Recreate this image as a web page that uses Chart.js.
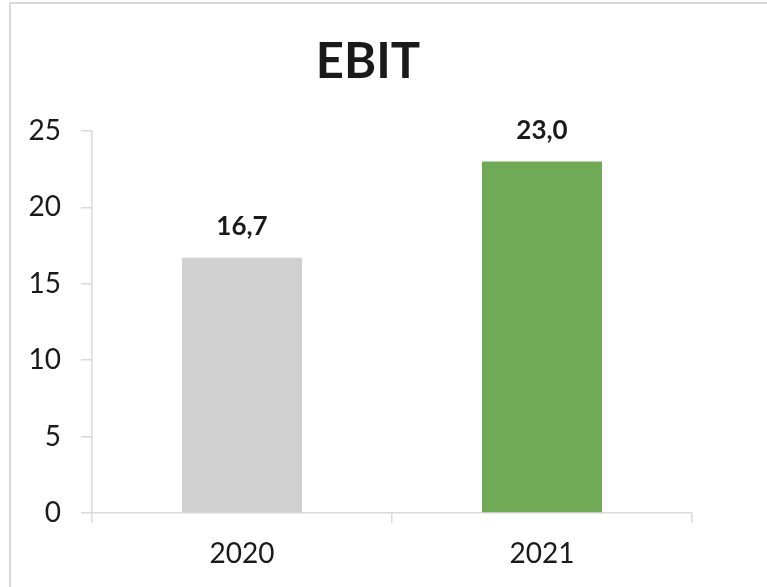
<!DOCTYPE html>
<html>
<head>
<meta charset="utf-8">
<script src="https://cdn.jsdelivr.net/npm/chart.js@4/dist/chart.umd.min.js"></script>
<style>
  body { margin: 0; background: #fff; overflow: hidden; }
  #wrap { position: relative; width: 767px; height: 587px; }
  #frame { position: absolute; left: 9px; top: 2px; width: 900px; height: 800px; border: 2px solid #d9d9d9; box-sizing: border-box; }
  canvas { position: absolute; left: 0; top: 0; }
</style>
</head>
<body>
<div id="wrap">
  <div id="frame"></div>
  <canvas id="myChart" width="767" height="587"></canvas>
</div>
<script>
// data
var titleText = 'EBIT';
var years = ['2020', '2021'];
var ebit = [16.7, 23.0];
var yTicks = [0, 5, 10, 15, 20, 25];

var barColors = ['#d0d0d0', '#70aa56'];

// title drawn by hand, it sits a bit left of the plot centre in the original
var titlePlugin = {
	id: 'ebitTitle',
	afterDraw: function(chart){
		var ctx = chart.ctx;
		ctx.save();
		ctx.font = 'bold 49px Lato';
		ctx.fillStyle = '#1a1a1a';
		ctx.textAlign = 'center';
		ctx.textBaseline = 'alphabetic';
		ctx.fillText(titleText, 368, 78);
		ctx.restore();
	}
};

// value labels above bars, comma as decimal sign
var labelPlugin = {
	id: 'barLabels',
	afterDatasetsDraw: function(chart){
		var ctx = chart.ctx;
		var meta = chart.getDatasetMeta(0);
		ctx.save();
		ctx.font = 'bold 26px Lato';
		ctx.fillStyle = '#1a1a1a';
		ctx.textAlign = 'center';
		ctx.textBaseline = 'alphabetic';
		meta.data.forEach(function(bar, i){
			var txt = ebit[i].toFixed(1).replace('.', ',');
			ctx.fillText(txt, bar.x, bar.y - 23);
		});
		ctx.restore();
	}
};

var ctx = document.getElementById('myChart').getContext('2d');
var chart = new Chart(ctx, {
	type: 'bar',
	data: {
		labels: years,
		datasets: [{
			data: ebit,
			backgroundColor: barColors,
			borderWidth: 0,
			barPercentage: 0.4,
			categoryPercentage: 1
		}]
	},
	options: {
		responsive: false,
		animation: false,
		layout: { padding: { top: 131, right: 75, left: 0, bottom: 0 } },
		plugins: {
			legend: { display: false },
			tooltip: { enabled: false },
			title: { display: false }
		},
		scales: {
			x: {
				grid: { offset: true, drawOnChartArea: false, drawTicks: true, tickLength: 10, color: '#d9d9d9', lineWidth: 1.5 },
				border: { color: '#d9d9d9', width: 1.5 },
				ticks: { color: '#1a1a1a', font: { family: 'Lato', size: 28 }, padding: 14 },
				afterFit: function(scale){ scale.height = 74; }
			},
			y: {
				min: 0,
				max: 25,
				afterBuildTicks: function(scale){
					scale.ticks = yTicks.map(function(v){ return { value: v }; });
				},
				grid: { drawOnChartArea: false, drawTicks: true, tickLength: 11, color: '#d9d9d9', lineWidth: 1.5 },
				border: { color: '#d9d9d9', width: 1.5 },
				ticks: { color: '#1a1a1a', font: { family: 'Lato', size: 28 }, padding: 20 },
				afterFit: function(scale){ scale.width = 92; }
			}
		}
	},
	plugins: [titlePlugin, labelPlugin]
});
</script>
</body>
</html>
